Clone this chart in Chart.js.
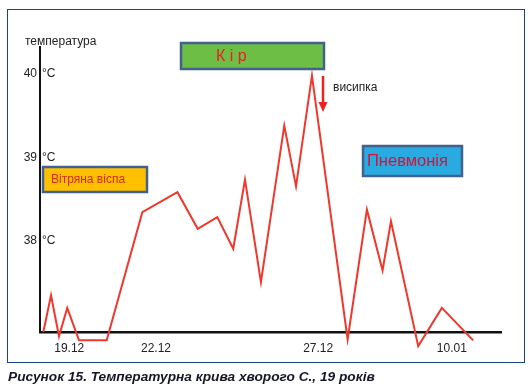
<!DOCTYPE html>
<html>
<head>
<meta charset="utf-8">
<script src="https://cdn.jsdelivr.net/npm/chart.js"></script>
<style>
body { margin: 0; background: #fff; }
#wrap { position: relative; width: 532px; height: 388px; }
#frame { position: absolute; left: 7px; top: 9px; width: 516px; height: 352px; border: 1.5px solid #1c4585; }
canvas { position: absolute; left: 0; top: 0; }
#caption { position: absolute; left: 8px; top: 369px; font: italic bold 13.7px "Liberation Sans", Arial, sans-serif; color: #16162a; white-space: nowrap; }
</style>
</head>
<body>
<div id="wrap">
  <div id="frame"></div>
  <canvas id="tempChart" width="532" height="388"></canvas>
  <div id="caption">Рисунок 15. Температурна крива хворого С., 19 років</div>
</div>
<script>
// measurement moments (roughly two per day) and body temperature, °C
const moments = [0.23, 0.76, 1.31, 1.88, 2.69, 4.6, 7.06, 9.48, 10.88, 12.23, 13.33, 14.14,
                 15.24, 16.85, 17.66, 18.76, 21.22, 22.55, 23.63, 24.21, 26.09, 27.72, 29.88];
const temps = [36.90, 37.34, 36.85, 37.19, 36.80, 36.80, 38.34, 38.58, 38.14, 38.28, 37.90, 38.73,
               37.50, 39.38, 38.65, 39.98, 36.81, 38.37, 37.64, 38.23, 36.73, 37.19, 36.80];
const dateLabels = ['19.12', '22.12', '27.12', '10.01'];
const datePos = [2.02, 8, 19.19, 28.41];
const tempTicks = [38, 39, 40];

const font = '"Liberation Sans", Arial, sans-serif';

function box(ctx, x, y, w, h, fill) {
    ctx.fillStyle = fill;
    ctx.fillRect(x, y, w, h);
    ctx.strokeStyle = '#41618f';
    ctx.lineWidth = 2.5;
    ctx.strokeRect(x, y, w, h);
}

const labelsPlugin = {
    id: 'labels',
    afterDraw(chart) {
        const ctx = chart.ctx;
        const xs = chart.scales.x;
        const ys = chart.scales.y;
        const left = chart.chartArea.left;
        ctx.save();
        ctx.textBaseline = 'middle';

        // axis labels: number left of the axis line, unit right of it
        ctx.fillStyle = '#222';
        ctx.font = '12px ' + font;
        tempTicks.forEach(function(t) {
            const y = ys.getPixelForValue(t);
            ctx.textAlign = 'right';
            ctx.fillText(String(t), left - 3, y);
            ctx.textAlign = 'left';
            ctx.fillText('°C', left + 2, y);
        });
        ctx.fillText('температура', 25, 42);
        ctx.textAlign = 'center';
        dateLabels.forEach(function(lbl, i) {
            ctx.fillText(lbl, xs.getPixelForValue(datePos[i]), chart.chartArea.bottom + 17);
        });

        // diagnosis boxes
        box(ctx, 181, 43, 143, 26, '#6dbe45');
        ctx.fillStyle = '#e8202a';
        ctx.font = '16px ' + font;
        ctx.textAlign = 'left';
        ctx.fillText('К і р', 216, 57);

        box(ctx, 43, 167, 104, 25, '#ffc000');
        ctx.fillStyle = '#d42a1e';
        ctx.font = '12px ' + font;
        ctx.fillText('Вітряна віспа', 51, 180);

        box(ctx, 363, 146, 99, 30, '#29abe2');
        ctx.fillStyle = '#d2143a';
        ctx.font = '16.5px ' + font;
        ctx.fillText('Пневмонія', 367, 161);

        // rash arrow
        ctx.strokeStyle = '#ee2222';
        ctx.fillStyle = '#ee2222';
        ctx.lineWidth = 2.5;
        ctx.beginPath();
        ctx.moveTo(323, 76);
        ctx.lineTo(323, 104);
        ctx.stroke();
        ctx.beginPath();
        ctx.moveTo(318.5, 102);
        ctx.lineTo(327.5, 102);
        ctx.lineTo(323, 112);
        ctx.closePath();
        ctx.fill();
        ctx.fillStyle = '#222';
        ctx.font = '12px ' + font;
        ctx.fillText('висипка', 333, 88);
        ctx.restore();
    }
};

new Chart(document.getElementById('tempChart'), {
    type: 'line',
    data: {
        datasets: [{
            data: moments.map(function(m, i) { return { x: m, y: temps[i] }; }),
            borderColor: '#f0372c',
            borderWidth: 2,
            pointRadius: 0,
            tension: 0,
            clip: false
        }]
    },
    options: {
        responsive: false,
        animation: false,
        layout: { padding: { left: 40, top: 47, right: 31, bottom: 56 } },
        plugins: { legend: { display: false }, tooltip: { enabled: false } },
        scales: {
            x: {
                type: 'linear', min: 0, max: 31.8,
                grid: { display: false },
                ticks: { display: false },
                border: { color: '#111', width: 2.5 },
                afterFit: function(scale) { scale.height = 0; }
            },
            y: {
                min: 36.9, max: 40.324,
                grid: { display: false },
                ticks: { display: false },
                border: { color: '#111', width: 2 },
                afterFit: function(scale) { scale.width = 0; }
            }
        }
    },
    plugins: [labelsPlugin]
});
</script>
</body>
</html>
